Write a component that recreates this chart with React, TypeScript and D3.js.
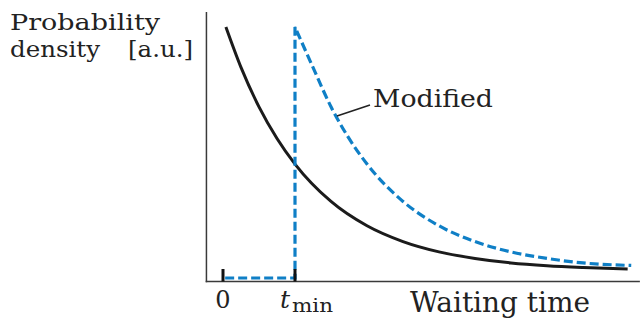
import React from "react";
import * as d3 from "d3";

// Waiting-time axis (units of t_min) and densities (normalised, a.u.)
const tickValues = [0, 1];
const tickLabels = ["0", "t"];
const baseT = [0.04, 0.25, 0.5, 0.75, 1, 1.5, 2, 2.5, 3, 3.5, 4, 4.5, 5, 5.62];
const baseP = [1.0, 0.839, 0.682, 0.556, 0.454, 0.305, 0.208, 0.145, 0.104, 0.078, 0.06, 0.049, 0.042, 0.036];
const stepT = [0.03, 1, 1];
const stepP = [0, 0, 1.0];
const modT = [1, 1.25, 1.5, 1.75, 2, 2.5, 3, 3.5, 4, 4.5, 5, 5.67];
const modP = [1.0, 0.839, 0.682, 0.556, 0.454, 0.305, 0.208, 0.145, 0.104, 0.078, 0.06, 0.05];
const xDomainAxis = [-0.23, 5.79];
const yAxisTop = 1.06;

const W = 641;
const H = 325;
const FONT = "'DejaVu Serif', 'Liberation Serif', serif";

export default function App() {
  const x = d3.scaleLinear().domain([0, 1]).range([223, 295]);
  const y = d3.scaleLinear().domain([0, 1]).range([278, 27]);

  const lin = d3
    .line<[number, number]>()
    .x((d) => x(d[0]))
    .y((d) => y(d[1]));
  const curve = d3
    .line<[number, number]>()
    .x((d) => x(d[0]))
    .y((d) => y(d[1]))
    .curve(d3.curveMonotoneX);

  const basePts = baseT.map((t, i) => [t, baseP[i]] as [number, number]);
  const stepPts = stepT.map((t, i) => [t, stepP[i]] as [number, number]);
  const modPts = modT.map((t, i) => [t, modP[i]] as [number, number]);

  const basePath = curve(basePts) || "";
  const stepPath = lin(stepPts) || "";
  const modCurve = (curve(modPts) || "").replace(/^M[^A-Za-z]*/, "");
  const modPath = stepPath + modCurve;

  const axisY = y(0) + 3.5;
  const axisX = x(xDomainAxis[0]);

  return (
    <svg
      width={W}
      height={H}
      viewBox={`0 0 ${W} ${H}`}
      style={{ position: "absolute", left: 0, top: 0, background: "#fff" }}
    >
      {/* axes */}
      <line x1={axisX} x2={axisX} y1={y(yAxisTop)} y2={axisY + 0.75} stroke="#3a3a3a" strokeWidth={1.5} />
      <line x1={axisX - 0.75} x2={x(xDomainAxis[1])} y1={axisY} y2={axisY} stroke="#3a3a3a" strokeWidth={1.5} />

      {/* curves */}
      <path d={basePath} fill="none" stroke="#1b1b1b" strokeWidth={3} />
      <path d={modPath} fill="none" stroke="#0f7fc6" strokeWidth={3.2} strokeDasharray="9,4" />

      {/* ticks */}
      {tickValues.map((v) => (
        <line key={v} x1={x(v)} x2={x(v)} y1={axisY - 12.5} y2={axisY} stroke="#111" strokeWidth={3} />
      ))}

      <g fontFamily={FONT} fill="#222">
        {/* tick labels */}
        <text x={x(tickValues[0])} y={308} fontSize={24} textAnchor="middle" fontWeight={300}>
          {tickLabels[0]}
        </text>
        <text x={280} y={308} fontSize={25} fontStyle="italic">
          {tickLabels[1]}
        </text>
        <text x={292} y={312} fontSize={18} textLength={41} lengthAdjust="spacingAndGlyphs">
          min
        </text>

        {/* axis titles */}
        <text x={10} y={30} fontSize={23} textLength={150} lengthAdjust="spacingAndGlyphs">
          Probability
        </text>
        <text x={10} y={57} fontSize={23} textLength={90} lengthAdjust="spacingAndGlyphs">
          density
        </text>
        <text x={128} y={57} fontSize={23} textLength={65} lengthAdjust="spacingAndGlyphs">
          [a.u.]
        </text>
        <text x={410} y={312} fontSize={27} textLength={180} lengthAdjust="spacingAndGlyphs">
          Waiting time
        </text>

        {/* annotation */}
        <text x={373} y={107} fontSize={25} textLength={120} lengthAdjust="spacingAndGlyphs">
          Modified
        </text>
      </g>
      <line x1={337} y1={116} x2={370} y2={105} stroke="#222" strokeWidth={1.5} />
    </svg>
  );
}
